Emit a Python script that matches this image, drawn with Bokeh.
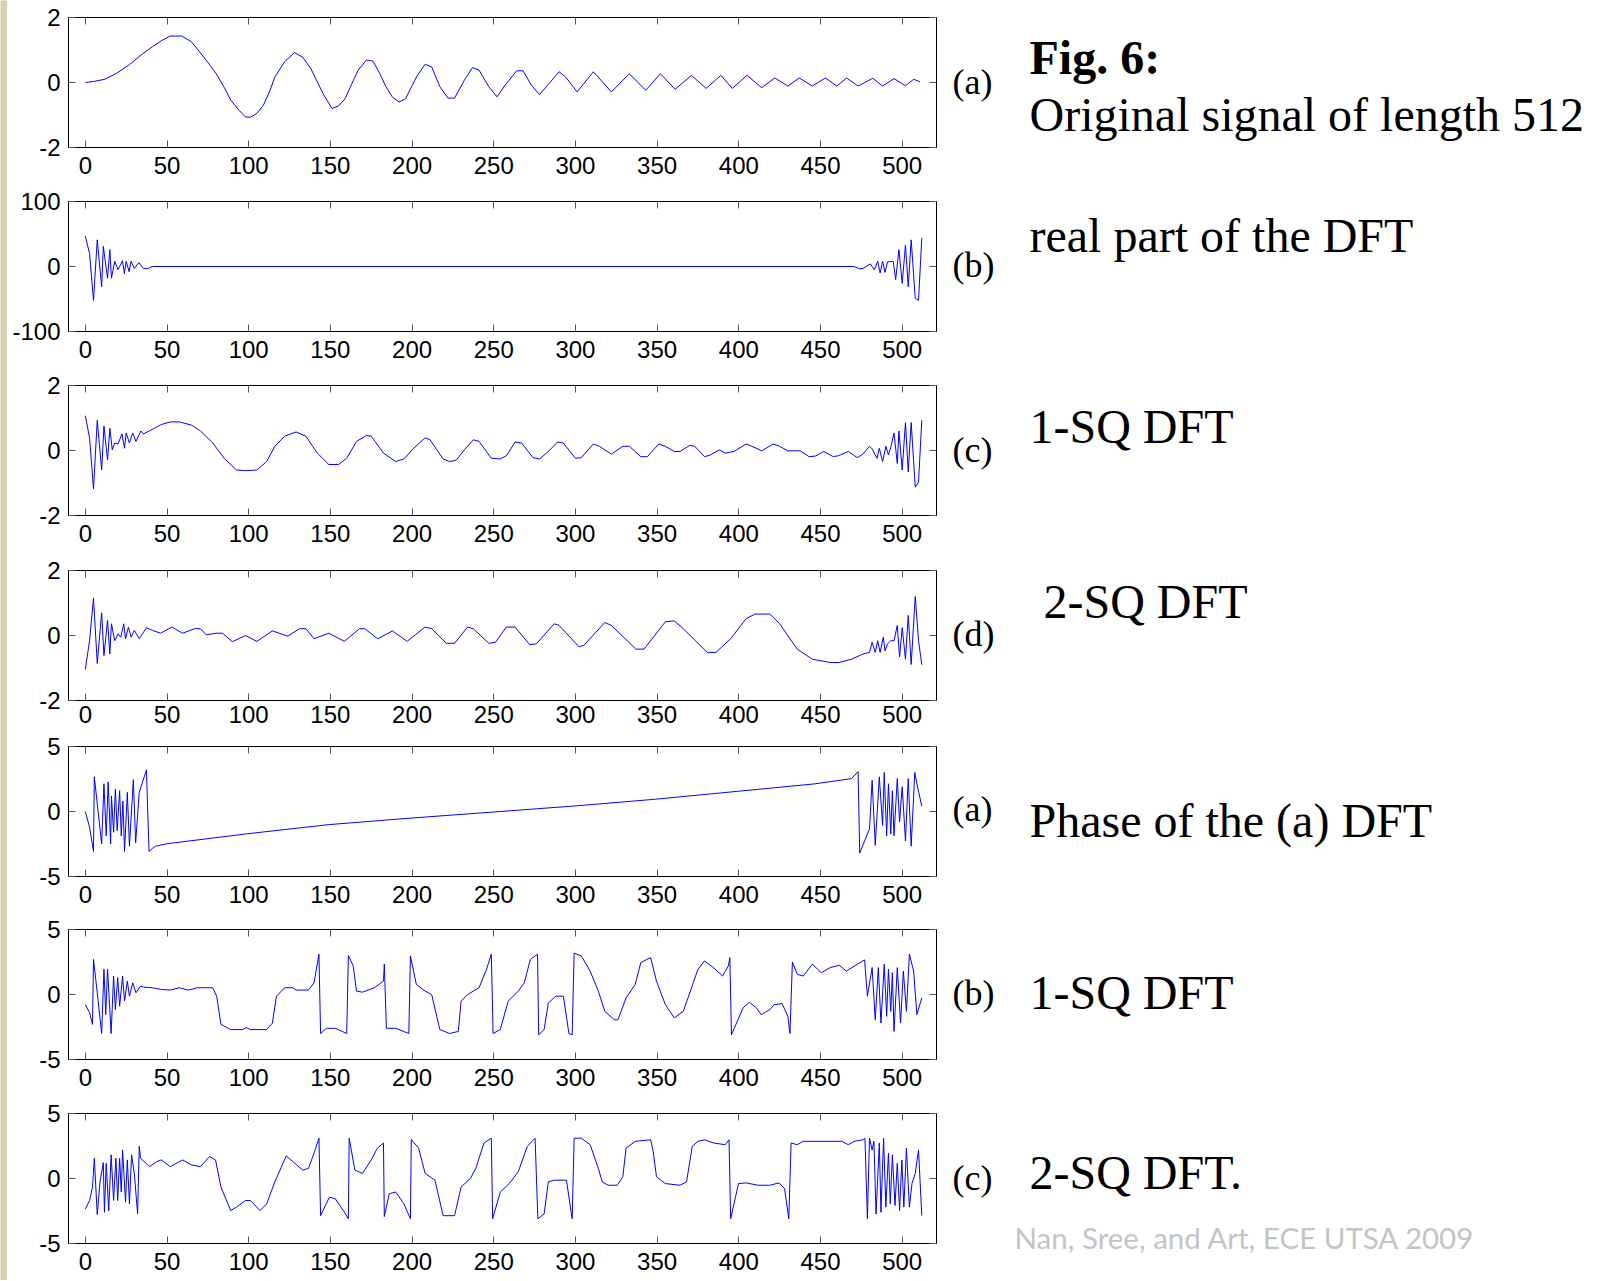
from bokeh.plotting import figure
from bokeh.models import Range1d, LinearAxis, FixedTicker, Label, ColumnDataSource
from bokeh.layouts import column, row
from bokeh.embed import file_html
from bokeh.resources import INLINE

# ---------------- data ----------------
x_ticks = [0, 50, 100, 150, 200, 250, 300, 350, 400, 450, 500]
x_limits = (-10.3, 521)

# (a) original signal
sig_a = [(0, 0.0), (5, 0.03), (12, 0.1), (19, 0.28), (27, 0.55), (34, 0.84), (41, 1.1), (47, 1.3),
         (52, 1.43), (59, 1.43), (65, 1.25), (70, 0.94), (75, 0.62), (80, 0.28), (85, -0.15),
         (89, -0.54), (94, -0.85), (98, -1.06), (101, -1.07), (105, -0.95), (109, -0.7),
         (113, -0.25), (116, 0.17), (122, 0.64), (128, 0.92), (133, 0.78), (138, 0.43), (142, 0.02),
         (146, -0.39), (151, -0.8), (155, -0.72), (159, -0.5), (163, -0.05), (167, 0.38),
         (172, 0.69), (176, 0.66), (180, 0.3), (184, -0.13), (188, -0.45), (192, -0.6),
         (196, -0.5), (200, -0.1), (203, 0.2), (208, 0.56), (212, 0.48), (217, -0.13),
         (222, -0.48), (226, -0.48), (232, 0.07), (237, 0.46), (241, 0.38), (247, -0.13),
         (252, -0.44), (257, -0.08), (264, 0.36), (268, 0.36), (273, -0.08), (278, -0.37),
         (283, -0.08), (290, 0.33), (294, 0.17), (301, -0.29), (311, 0.33), (322, -0.29),
         (333, 0.27), (343, -0.24), (352, 0.27), (361, -0.21), (371, 0.22), (380, -0.18),
         (389, 0.22), (396, -0.18), (405, 0.22), (414, -0.16), (422, 0.14), (430, -0.11),
         (437, 0.14), (445, -0.11), (453, 0.14), (460, -0.11), (466, 0.14), (473, -0.11),
         (482, 0.13), (488, -0.11), (495, 0.12), (502, -0.1), (507, 0.1), (511, 0.02)]

# (b) real part of the DFT
sig_b = [(0, 46.6), (2.6, 20), (5, -52), (7.3, 41), (10, -31), (11, 31), (13.6, -18), (15, 26),
         (16, -18), (18, 8), (20, -5), (22.8, 9), (23.9, -11), (25, 8), (26.8, -8), (28, 8),
         (30, -3), (32.7, 6), (35.6, -3), (38.5, -3), (41, 0), (470.6, 0), (474, -3.6), (476, -3),
         (480.5, 4), (483, -5), (485, 8), (486.5, -10), (488, 8), (489.5, -9), (491, 7),
         (494.5, 8), (496, -20), (498, 26), (500, -26), (502, 33), (503.7, -31), (505.5, 41),
         (508, -49), (510, -52), (512, 44)]

# (c) 1-SQ DFT
sig_c = [(0, 1.07), (2.6, 0.39), (5, -1.18), (7.3, 0.93), (10, -0.6), (11.4, 0.75), (13.6, -0.29),
         (15, 0.68), (16.5, 0.02), (18, 0.23), (20, 0.2), (22.4, 0.51), (24, 0.07), (25, 0.54),
         (27, 0.23), (29, 0.54), (31, 0.28), (34, 0.6), (35.6, 0.51), (41, 0.65), (46.6, 0.8),
         (52, 0.88), (57.6, 0.88), (65, 0.78), (70.5, 0.6), (78, 0.23), (85, -0.24), (92.5, -0.6),
         (98, -0.62), (105, -0.6), (111, -0.34), (116, 0.13), (122, 0.44), (129, 0.57),
         (135, 0.44), (142, -0.08), (149, -0.43), (155, -0.43), (160, -0.24), (166, 0.28),
         (172, 0.46), (175, 0.44), (182.5, -0.08), (190, -0.34), (195, -0.26), (201, 0.07),
         (208, 0.39), (211, 0.33), (219, -0.26), (223, -0.34), (227, -0.3), (232, 0.02),
         (237.5, 0.33), (241, 0.28), (248.5, -0.24), (254, -0.26), (258, -0.15), (263, 0.26),
         (267, 0.23), (274, -0.22), (278, -0.26), (283, -0.05), (289, 0.26), (292.6, 0.23),
         (300, -0.24), (303.6, -0.22), (311, 0.2), (314.6, 0.13), (322, -0.11), (329, 0.13),
         (333, 0.13), (340, -0.19), (344, -0.19), (351, 0.2), (355, 0.13), (360.5, -0.03),
         (364, -0.03), (370, 0.16), (373, 0.13), (379, -0.19), (382.5, -0.14), (388, 0.02),
         (391.7, -0.08), (397, -0.03), (404.5, 0.2), (408, 0.13), (414, -0.01), (421, 0.2),
         (425, 0.13), (430, -0.01), (437.6, -0.01), (443, -0.19), (447, -0.17), (452, -0.03),
         (457.8, -0.19), (461, -0.16), (467, -0.03), (472.5, -0.22), (476, -0.11), (480, 0.13),
         (481.6, 0.05), (484.6, -0.24), (486, 0.07), (488, -0.34), (490, 0.13), (491.6, -0.14),
         (493, 0.1), (495, 0.54), (497, -0.4), (498, 0.6), (500, -0.6), (502, 0.86),
         (503.7, -0.66), (505.5, 0.86), (508, -1.13), (510, -0.97), (512, 0.93)]

# (d) 2-SQ DFT
sig_d = [(0, -1.04), (2.6, -0.16), (5, 1.15), (7.3, -0.86), (10, 0.7), (11.4, -0.62), (13.6, 0.47),
         (15, -0.57), (16, 0.36), (18, -0.16), (20, 0.05), (21.7, -0.05), (23.5, 0.36),
         (24.6, -0.1), (26.4, 0.26), (28, -0.05), (30, 0.16), (33, -0.1), (37.4, 0.24), (41, 0.16),
         (46, 0.07), (53, 0.26), (59.5, 0.07), (67, 0.21), (70.5, 0.21), (74, 0.02), (80, 0.07),
         (84, 0.07), (90, -0.19), (98, 0.0), (105, -0.18), (114.5, 0.14), (124, -0.02),
         (131, 0.21), (135, 0.21), (140, -0.1), (149, 0.07), (158.6, -0.18), (167.8, 0.21),
         (171, 0.21), (179, -0.1), (188, 0.14), (197, -0.18), (208, 0.26), (212, 0.21),
         (221, -0.24), (226, -0.24), (234, 0.26), (237.5, 0.21), (247, -0.24), (251, -0.21),
         (257.7, 0.26), (263, 0.26), (272, -0.28), (276, -0.26), (287, 0.36), (290, 0.31),
         (302, -0.34), (305, -0.31), (318, 0.4), (322, 0.31), (337, -0.42), (342, -0.42),
         (355, 0.42), (360.5, 0.45), (366, 0.21), (380.7, -0.52), (386, -0.52), (395, -0.1),
         (404.5, 0.52), (410, 0.66), (419, 0.66), (425, 0.36), (435.8, -0.42), (445, -0.73),
         (456, -0.83), (461.5, -0.83), (469, -0.73), (476, -0.57), (480, -0.52), (481.6, -0.21),
         (483.5, -0.52), (485, -0.16), (486.5, -0.52), (488.4, -0.05), (489.5, -0.47),
         (491, -0.26), (493, -0.16), (495, -0.16), (497, 0.31), (498.4, -0.66), (500, 0.24),
         (502, -0.73), (503.7, 0.62), (505.5, -0.89), (508, 1.2), (510, -0.16), (512, -0.9)]

# phase of the (a) DFT
sig_e = [(0, 0.0), (2.6, -1.2), (5, -3.07), (5.5, 2.67), (10, -2.5), (11.4, 2.13), (12.8, -1.87),
         (14, 2.27), (15.5, -2.5), (16, 1.2), (17.3, -1.6), (18.4, 1.73), (19.5, -1.47), (21, 1.6),
         (22, -1.87), (23, 0.8), (24, -3.07), (25.7, 1.47), (27, -2.67), (29.4, 2.45),
         (30.8, -2.4), (33, 1.47), (37.4, 3.2), (39, -3.07), (41, -2.85), (43, -2.67),
         (50, -2.48), (98, -1.73), (149, -1.01), (197, -0.53), (248.5, -0.05), (300, 0.43),
         (347.6, 0.93), (399, 1.55), (446.8, 2.13), (469, 2.53), (473, 3.07), (474, -3.2),
         (480, -1.33), (481.6, 2.4), (483.5, -2.6), (486, 2.67), (488, -1.07), (489, 3.0),
         (490.5, -1.87), (491.6, 2.13), (493, -1.73), (494, 1.6), (495, -1.87), (497, 2.53),
         (498.4, -0.8), (500, 1.9), (502, -2.27), (503.7, 2.53), (505.5, -2.67), (507.7, 3.0),
         (509, 2.13), (512, 0.4)]

# phase of the 1-SQ DFT
sig_f = [(0, -0.78), (2.6, -1.4), (4.4, -2.3), (5, 2.7), (7.3, 0.13), (10, -3.0), (11.4, 1.94),
         (12.5, -1.55), (13.6, 1.94), (15.8, -3.0), (17.3, 1.42), (18.4, -1.16), (19.8, 1.3),
         (21, -0.9), (22.8, 1.42), (24, -0.5), (25.7, 1.03), (27, -0.13), (29, 0.9), (31, 0.13),
         (33.8, 0.65), (35.6, 0.57), (41, 0.52), (46.6, 0.39), (52, 0.34), (57.6, 0.52),
         (63, 0.34), (68.6, 0.52), (78, 0.52), (80.4, -0.13), (83, -2.3), (89, -2.7), (96, -2.7),
         (98.7, -2.55), (101, -2.7), (111, -2.7), (114.5, -2.2), (117, -0.13), (122, 0.52),
         (127, 0.52), (129, 0.34), (136.6, 0.34), (140, 0.9), (143, 3.1), (144, -3.0),
         (147.6, -2.6), (153, -2.6), (160, -3.0), (161, 3.0), (164, 2.2), (166, 0.26),
         (169.6, 0.18), (177, 0.52), (182.5, 1.03), (183, 2.33), (184.3, -2.6), (190, -2.6),
         (198, -3.0), (199, 2.97), (202.6, 0.78), (208, 0.26), (212, 0.0), (217, -2.7),
         (223, -3.0), (228.3, -2.84), (230, -0.52), (234, 0.0), (241, 0.52), (245.6, 1.94),
         (248.5, 3.1), (249.6, -3.0), (254, -2.7), (258.8, -0.52), (265, 0.26), (268.7, 0.9),
         (272.4, 2.7), (276.8, 3.1), (277.5, -3.1), (280.8, -2.7), (283.4, -0.65), (288, -0.13),
         (292.6, -0.13), (296, -3.0), (298, -3.1), (299.2, 3.18), (303.6, 2.97), (309, 1.8),
         (314, 0.26), (318, -1.3), (323.8, -1.94), (326, -1.94), (331, -0.26), (336.6, 0.78),
         (340, 2.45), (346, 2.84), (349.6, 1.03), (355, -0.78), (360.5, -1.8), (366, -1.3),
         (375, 1.94), (379, 2.58), (384.5, 2.07), (390, 1.42), (393.6, 2.2), (394.5, 2.84),
         (395.5, -3.1), (402.6, -1.03), (406.4, -0.6), (410.8, -1.03), (413.7, -1.55),
         (419, -1.16), (421.7, -0.78), (426.5, -0.7), (430, -1.68), (431.3, -3.0), (432.8, 2.5),
         (435.8, 1.55), (439.4, 1.42), (445, 2.33), (450.5, 1.68), (456, 2.07), (461.5, 2.25),
         (465.8, 1.8), (472.5, 2.33), (477, 2.66), (478.7, -0.13), (481.6, 2.07), (483.5, -1.94),
         (485.4, 2.07), (487, -2.2), (489, 2.33), (490.5, -1.68), (491.6, 1.94), (493, -1.3),
         (494, 1.68), (495, -2.84), (497, 2.07), (499, -2.2), (500.7, 1.8), (502.6, -1.3),
         (504.4, 3.1), (507, 1.8), (509, -1.55), (512, -0.26)]

# phase of the 2-SQ DFT
sig_g = [(0, -2.34), (2.6, -1.7), (4.4, -0.65), (5.5, 1.56), (7.3, -2.78), (9, -0.26), (11, 1.22),
         (11.7, -2.6), (12.8, 1.17), (14.3, -2.47), (15.8, 1.82), (17.3, -1.69), (18.7, 1.56),
         (19.8, -1.69), (21, 1.56), (22, -1.04), (22.8, 2.2), (24.6, -1.82), (25.7, 1.43),
         (27, -1.95), (28.3, 1.82), (30, 0.39), (32, -2.73), (33, 2.47), (33.8, 1.56),
         (39.3, 0.91), (43.7, 1.3), (46.6, 1.43), (52, 0.91), (59.5, 1.43), (65, 1.04),
         (70.5, 0.91), (76, 1.69), (79.7, 1.43), (83, -0.65), (89, -2.47), (92.5, -2.2),
         (98, -1.69), (101, -1.69), (107, -2.47), (111, -1.95), (116, -0.26), (123, 1.74),
         (127, 1.3), (133, 0.65), (136.6, 0.78), (140, 1.95), (143, 3.1), (144, -2.86),
         (149.4, -1.43), (153, -1.56), (158.6, -2.6), (161, -3.1), (161.5, 3.1), (165, 0.65),
         (169.6, 0.39), (175, 1.43), (178.8, 2.34), (182.5, 2.73), (183, -2.93), (186, -1.17),
         (190, -1.04), (195, -1.95), (199, -3.1), (199.5, 3.0), (204, 2.34), (208, 0.39),
         (214, -0.13), (219, -2.86), (226, -2.86), (230, -0.65), (235.7, 0.0), (239, 0.78),
         (244, 2.73), (248.5, 3.1), (249.3, -3.1), (254, -1.04), (259.5, -0.39), (265, 0.52),
         (270.5, 2.47), (275.3, 3.1), (277, -3.1), (280.8, -2.73), (283.4, -0.26), (287, -0.13),
         (294.5, -0.13), (298, -3.1), (299.2, 3.1), (303.6, 3.1), (309, 2.6), (314, 0.78),
         (316.4, -0.26), (320, -0.52), (325.6, -0.52), (329, 0.13), (331, 2.34), (336.6, 2.86),
         (346, 2.98), (347.6, 2.08), (349.6, 0.13), (355, -0.39), (364, -0.52), (368, -0.26),
         (371.5, 2.47), (375, 2.86), (379, 2.98), (384.5, 2.73), (391.7, 2.6), (394, 2.98),
         (395, -3.1), (399.8, -0.39), (404.5, -0.34), (411.8, -0.52), (419, -0.52),
         (424.6, -0.34), (428, -0.78), (430.6, -3.1), (432, 2.73), (435.8, 2.6), (439.4, 2.86),
         (463, 2.86), (467, 2.6), (470.6, 2.86), (476, 2.98), (477.2, 3.1), (478.7, -3.1),
         (480, 3.1), (481.6, 2.2), (482.7, 2.86), (484, -2.73), (486, 2.73), (487, -2.6),
         (488.6, 3.1), (490, -2.2), (491.6, 1.95), (492.7, -1.95), (494, 1.82), (495.6, -2.08),
         (497, 1.17), (498.4, -2.47), (499.8, 1.43), (501, -2.2), (502.6, 2.34), (504.4, -2.2),
         (506, -0.39), (508, 0.39), (510, 2.2), (512, -2.86)]

y_limits = [(-2, 2), (-100, 100), (-2, 2), (-2, 2), (-5, 5), (-5, 5), (-5, 5)]
y_ticks = [[-2, 0, 2], [-100, 0, 100], [-2, 0, 2], [-2, 0, 2], [-5, 0, 5], [-5, 0, 5], [-5, 0, 5]]
tags = ["(a)", "(b)", "(c)", "(d)", "(a)", "(b)", "(c)"]
captions = ["Original signal of length 512", "real part of the DFT", "1-SQ DFT", "2-SQ DFT",
            "Phase of the (a) DFT", "1-SQ DFT", "2-SQ DFT."]
fig_title = "Fig. 6:"
credit = "Nan, Sree, and Art, ECE UTSA 2009"
signals = [sig_a, sig_b, sig_c, sig_d, sig_e, sig_f, sig_g]

# ---------------- layout (pixels) ----------------
STRIP_W = 7
LEFT = 61
FRAME_W = 868
RIGHT = 2
PANEL_W = LEFT + FRAME_W + RIGHT
TOTAL_W = 1595
FRAME_H = 130
tops = [17, 15, 15, 15, 14, 15, 15]
bottoms = [39, 39, 40, 32, 38, 39, 37]
x_standoff = [9, 9, 9, 5, 9, 9, 9]
heights = [t + FRAME_H + b for t, b in zip(tops, bottoms)]
TOTAL_H = sum(heights)

# text column positions (pixels inside the right-hand text area, y downward)
tag_x = 14
tag_y = [81, 264, 449, 633, 808, 992, 1177]
cap_x = [91, 91, 91, 105, 91, 91, 91]
cap_y = [114, 235, 426, 601, 820, 992, 1172]
title_pos = (91, 57)
credit_pos = (76, 1237)

SERIF = "Liberation Serif"
SANS = "Liberation Sans"


def tick_labels(ticks):
    return {t: str(t) for t in ticks}


def make_panel(i):
    ylo, yhi = y_limits[i]
    p = figure(width=PANEL_W, height=heights[i],
               x_range=Range1d(*x_limits), y_range=Range1d(ylo, yhi),
               output_backend="svg", toolbar_location=None,
               min_border_left=LEFT, min_border_right=RIGHT,
               min_border_top=tops[i], min_border_bottom=bottoms[i],
               background_fill_color="white", border_fill_color="white",
               outline_line_color="black", outline_line_width=1)
    p.xgrid.visible = False
    p.ygrid.visible = False

    xs = [pt[0] for pt in signals[i]]
    ys = [pt[1] for pt in signals[i]]
    src = ColumnDataSource(dict(x=xs, y=ys))
    p.line("x", "y", source=src, line_color="#0000ff", line_width=1)

    for ax in p.xaxis:
        ax.ticker = FixedTicker(ticks=x_ticks)
        ax.major_label_overrides = tick_labels(x_ticks)
        ax.major_label_standoff = x_standoff[i]
    for ax in p.yaxis:
        ax.ticker = FixedTicker(ticks=y_ticks[i])
        ax.major_label_overrides = tick_labels(y_ticks[i])
        ax.major_label_standoff = 8
    for ax in list(p.xaxis) + list(p.yaxis):
        ax.major_tick_in = 7
        ax.major_tick_out = 0
        ax.minor_tick_line_color = None
        ax.major_tick_line_color = "#555555"
        ax.axis_line_color = "black"
        ax.major_label_text_font = SANS
        ax.major_label_text_font_size = "24px"
        ax.major_label_text_color = "black"

    common = dict(major_tick_in=7, major_tick_out=0, minor_tick_line_color=None,
                  major_tick_line_color="#555555", axis_line_color="black",
                  major_label_text_font_size="0px", major_label_standoff=0,
                  major_label_text_color=None)
    p.add_layout(LinearAxis(ticker=FixedTicker(ticks=x_ticks), **common), "above")
    p.add_layout(LinearAxis(ticker=FixedTicker(ticks=y_ticks[i]), **common), "right")
    return p


figs = [make_panel(i) for i in range(7)]

# beige slide edge on the far left
strip = figure(width=STRIP_W, height=TOTAL_H, x_range=Range1d(0, 1), y_range=Range1d(0, 1),
               output_backend="svg", toolbar_location=None, min_border=0,
               x_axis_location=None, y_axis_location=None,
               background_fill_color="#dacfb2", border_fill_color="#dacfb2",
               outline_line_color=None)
strip.xgrid.visible = False
strip.ygrid.visible = False

# right-hand text area
TEXT_W = TOTAL_W - PANEL_W - STRIP_W
t = figure(width=TEXT_W, height=TOTAL_H, x_range=Range1d(0, TEXT_W), y_range=Range1d(TOTAL_H, 0),
           output_backend="svg", toolbar_location=None, min_border=0,
           x_axis_location=None, y_axis_location=None,
           background_fill_color="white", border_fill_color="white", outline_line_color=None)
t.xgrid.visible = False
t.ygrid.visible = False

for i in range(7):
    t.add_layout(Label(x=tag_x, y=tag_y[i], text=tags[i], text_font=SERIF,
                       text_font_size="36px", text_baseline="middle", text_color="black"))
    t.add_layout(Label(x=cap_x[i], y=cap_y[i], text=captions[i], text_font=SERIF,
                       text_font_size="48px", text_baseline="middle", text_color="black"))
t.add_layout(Label(x=title_pos[0], y=title_pos[1], text=fig_title, text_font=SERIF,
                   text_font_size="48px", text_font_style="bold",
                   text_baseline="middle", text_color="black"))
t.add_layout(Label(x=credit_pos[0], y=credit_pos[1], text=credit, text_font="Lato",
                   text_font_size="29.5px", text_baseline="middle", text_color="#c4c4c4"))

layout = row(strip, column(*figs, spacing=0), t, spacing=0)

open("out.html", "w").write(file_html(layout, INLINE))
